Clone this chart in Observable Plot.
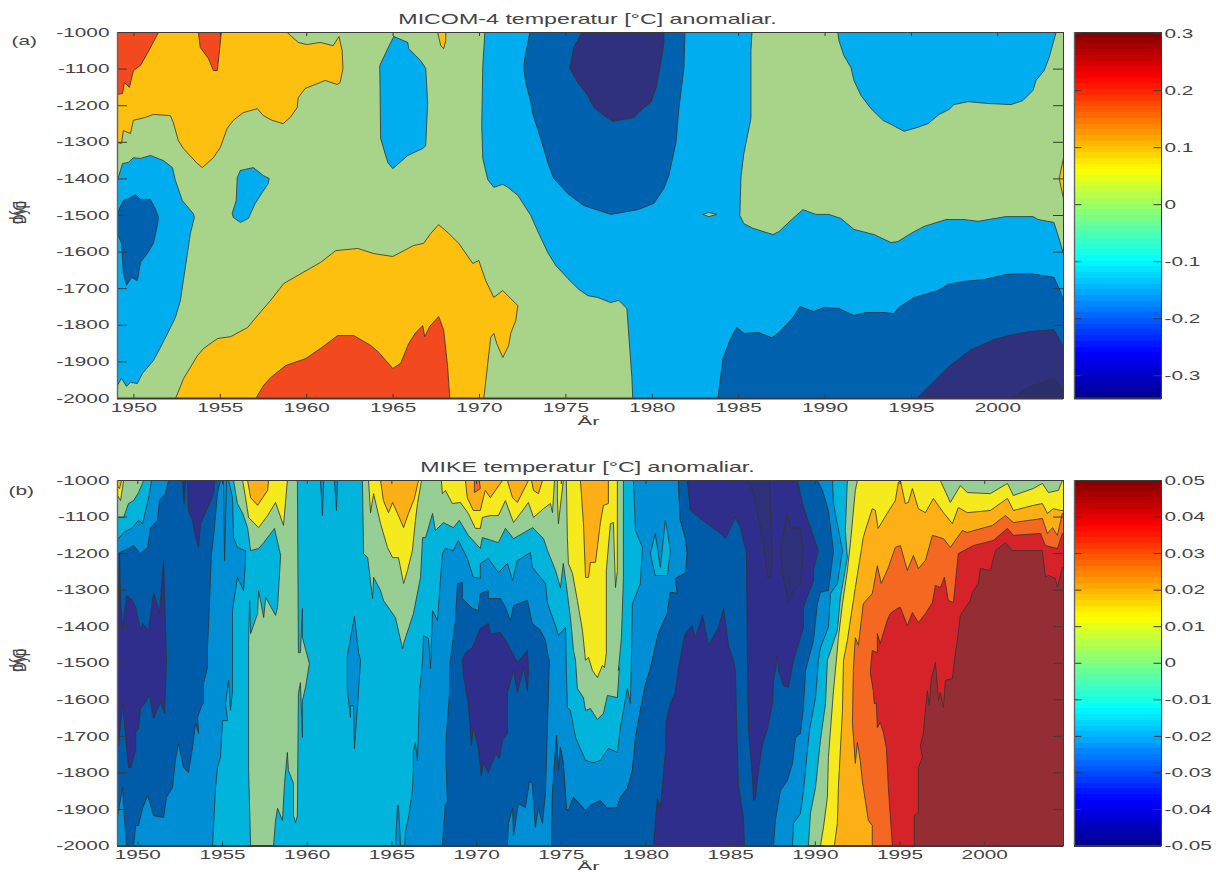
<!DOCTYPE html>
<html><head><meta charset="utf-8">
<script src="https://cdn.jsdelivr.net/npm/d3@7"></script>
<script src="https://cdn.jsdelivr.net/npm/@observablehq/plot@0.6"></script>
<style>
html,body{margin:0;padding:0;background:#fff}
#page{position:relative;width:1216px;height:872px;overflow:hidden}
#page>div{position:absolute}
svg{overflow:visible}
</style></head><body><div id="page"></div>
<script>
const yearTicks=[1950,1955,1960,1965,1970,1975,1980,1985,1990,1995,2000];
const depthTicks=[-1000,-1100,-1200,-1300,-1400,-1500,-1600,-1700,-1800,-1900,-2000];
const barTicksA=[0.3,0.2,0.1,0,-0.1,-0.2,-0.3];
const barTicksB=[0.05,0.04,0.03,0.02,0.01,0,-0.01,-0.02,-0.03,-0.04,-0.05];
const xA=[1949.05,2003.8], xB=[1948.8,2004.65];
const ZB=2004.65, ZA=2003.8;

// Panel (a) contour regions: [year, depth]
const aRedTL=[[1949.05,-1000],[1951.42,-1000],[1951.24,-1016],[1950.78,-1057],[1950.38,-1090],[1949.97,-1104],[1949.74,-1150],[1949.45,-1137],[1949.34,-1167],[1949.05,-1169]];
const aAmberTop=[[1949.05,-1000],[1958.87,-1000],[1959.51,-1027],[1960.03,-1033],[1960.78,-1027],[1961.53,-1036],[1961.87,-1011],[1962.05,-1049],[1962.10,-1098],[1961.93,-1137],[1961.76,-1142],[1961.07,-1131],[1960.49,-1142],[1959.91,-1153],[1959.51,-1178],[1959.45,-1205],[1959.05,-1232],[1958.64,-1249],[1958,-1240],[1957.49,-1227],[1957.14,-1208],[1956.33,-1219],[1955.75,-1240],[1955.40,-1262],[1955,-1314],[1954.6,-1342],[1953.96,-1369],[1953.67,-1358],[1952.86,-1317],[1952.57,-1295],[1952.28,-1246],[1952.11,-1227],[1951.13,-1224],[1950.66,-1232],[1949.97,-1240],[1949.80,-1276],[1949.39,-1268],[1949.28,-1303],[1949.05,-1301]];
const aRedSmall=[[1953.73,-1000],[1953.84,-1041],[1954.31,-1071],[1954.6,-1104],[1954.83,-1104],[1955.06,-1000]];
const aAmberSmall=[[1967.58,-1000],[1967.76,-1036],[1967.93,-1044],[1968.05,-1022],[1968.05,-1000]];
const aBlueCol=[[1965.04,-1011],[1965.85,-1027],[1965.9,-1044],[1966.6,-1077],[1966.89,-1098],[1967,-1191],[1966.89,-1309],[1966.72,-1317],[1965.85,-1336],[1964.98,-1372],[1964.69,-1355],[1964.28,-1290],[1964.23,-1090],[1964.69,-1044]];
const aBlueLeft=[[1949.05,-1404],[1949.34,-1358],[1949.68,-1355],[1949.97,-1342],[1950.38,-1344],[1950.95,-1336],[1951.71,-1350],[1952.23,-1369],[1952.4,-1404],[1952.8,-1459],[1953.44,-1495],[1953.5,-1505],[1953.27,-1549],[1953.15,-1587],[1952.86,-1678],[1952.69,-1732],[1952.4,-1779],[1951.94,-1823],[1951.53,-1861],[1951.13,-1896],[1950.49,-1932],[1950.2,-1959],[1949.8,-1956],[1949.57,-1967],[1949.28,-1945],[1949.05,-1964]];
const aDarkLeft=[[1949.05,-1492],[1949.39,-1459],[1949.68,-1454],[1950.09,-1443],[1950.38,-1456],[1950.95,-1456],[1951.24,-1481],[1951.42,-1505],[1951.36,-1527],[1951.13,-1576],[1950.78,-1604],[1950.38,-1628],[1950.2,-1678],[1949.86,-1669],[1949.57,-1691],[1949.39,-1658],[1949.28,-1576],[1949.05,-1549]];
const aBlueSmall=[[1956.16,-1377],[1956.91,-1369],[1957.49,-1391],[1957.83,-1399],[1957.77,-1413],[1957.43,-1437],[1957.02,-1467],[1956.62,-1508],[1956.16,-1519],[1955.75,-1505],[1955.69,-1494],[1955.92,-1459],[1955.98,-1396]];
const aAmberLow=[[1952.41,-2000],[1952.88,-1945],[1953.69,-1882],[1954.04,-1863],[1954.85,-1836],[1955.6,-1831],[1956.58,-1806],[1957.16,-1773],[1957.91,-1732],[1958.67,-1686],[1959.77,-1656],[1960.81,-1628],[1961.68,-1596],[1962.95,-1590],[1963.88,-1604],[1964.98,-1612],[1966.19,-1582],[1966.77,-1576],[1967.18,-1549],[1967.64,-1525],[1968.22,-1549],[1968.8,-1576],[1969.61,-1631],[1969.96,-1623],[1970.36,-1678],[1970.83,-1724],[1971.35,-1705],[1971.81,-1727],[1972.22,-1746],[1972.1,-1787],[1971.81,-1822],[1971.69,-1855],[1971.35,-1888],[1971,-1850],[1970.83,-1822],[1970.65,-1833],[1970.48,-1904],[1970.25,-2000]];
const aRedLow=[[1957.05,-2000],[1957.51,-1964],[1957.91,-1943],[1958.78,-1910],[1959.94,-1891],[1960.81,-1863],[1961.79,-1828],[1962.72,-1828],[1963.7,-1855],[1964.17,-1874],[1964.98,-1918],[1965.44,-1904],[1965.9,-1850],[1966.31,-1820],[1966.72,-1801],[1966.83,-1831],[1967.12,-1803],[1967.64,-1776],[1967.93,-1814],[1968.16,-1915],[1968.28,-2000]];
const aBlueMain=[[1970.31,-1000],[1985.77,-1000],[1985.71,-1049],[1985.71,-1235],[1985.30,-1331],[1985.13,-1396],[1985.07,-1500],[1985.30,-1522],[1985.82,-1535],[1986.98,-1552],[1987.33,-1544],[1988.14,-1508],[1988.72,-1484],[1989.47,-1497],[1990.22,-1497],[1990.92,-1508],[1991.67,-1538],[1992.83,-1552],[1993.82,-1574],[1994.22,-1571],[1994.97,-1549],[1995.72,-1530],[1997,-1511],[1998.04,-1511],[1998.85,-1516],[2000.47,-1503],[2002.04,-1503],[2002.33,-1511],[2003.25,-1519],[2003.49,-1555],[2003.78,-1601],[ZA,-1601],[ZA,-2000],[1978.87,-2000],[1978.82,-1943],[1978.53,-1754],[1978.06,-1732],[1977.6,-1738],[1976.85,-1724],[1976.27,-1719],[1975.75,-1702],[1975.11,-1672],[1974.42,-1637],[1973.95,-1601],[1973.43,-1549],[1972.97,-1500],[1972.22,-1445],[1971.64,-1423],[1971.35,-1415],[1970.83,-1423],[1970.48,-1402],[1970.19,-1344],[1970.13,-1254],[1970.19,-1090]];
const aGreenIsle=[[1982.93,-1497],[1983.27,-1492],[1983.73,-1497],[1983.27,-1503]];
const aBlueTR=[[1990.74,-1000],[1990.8,-1022],[1991.09,-1063],[1991.5,-1096],[1991.67,-1131],[1992.08,-1172],[1992.66,-1208],[1993.35,-1240],[1993.82,-1251],[1994.57,-1270],[1995.38,-1259],[1995.96,-1249],[1996.6,-1224],[1997.18,-1210],[1997.46,-1197],[1998.27,-1189],[1999.43,-1194],[2000.76,-1197],[2001.45,-1186],[2002.04,-1158],[2002.21,-1131],[2002.68,-1104],[2002.97,-1068],[2003.37,-1000]];
const aDarkBR=[[1983.8,-2000],[1984.09,-1891],[1984.55,-1834],[1984.9,-1806],[1985.3,-1822],[1986.17,-1820],[1986.92,-1834],[1987.33,-1820],[1988.14,-1779],[1988.54,-1749],[1989.35,-1762],[1989.93,-1751],[1990.8,-1754],[1991.67,-1773],[1992.37,-1765],[1993.41,-1765],[1993.99,-1768],[1994.28,-1751],[1995.15,-1724],[1996.54,-1705],[1997.12,-1688],[1998.05,-1680],[1999.21,-1675],[2000.47,-1661],[2001.8,-1658],[2003.25,-1669],[2003.54,-1699],[2003.78,-1727],[ZA,-1727],[ZA,-2000]];
const aNavyBR=[[1995.32,-2000],[1996.3,-1954],[1997.17,-1913],[1998.05,-1880],[1998.45,-1867],[1999.78,-1839],[2000.65,-1828],[2001.8,-1817],[2003.25,-1812],[2003.78,-1858],[ZA,-1858],[ZA,-2000]];
const aNavyCorner=[[2000.76,-2000],[2001.92,-1967],[2003.25,-1945],[2003.78,-1978],[ZA,-2000]];
const aAmberEdge=[[ZA,-1342],[2003.55,-1399],[ZA,-1454]];
const aDarkTop=[[1972.91,-1000],[1972.62,-1071],[1972.56,-1098],[1972.68,-1137],[1972.97,-1191],[1973.08,-1222],[1973.43,-1273],[1973.72,-1317],[1973.95,-1355],[1974.3,-1399],[1975.11,-1440],[1976.04,-1473],[1977.6,-1497],[1979.16,-1484],[1980.09,-1467],[1980.67,-1426],[1980.96,-1391],[1981.37,-1301],[1981.54,-1208],[1981.83,-1098],[1981.89,-1000]];
const aNavyTop=[[1975.92,-1000],[1975.46,-1041],[1975.23,-1098],[1975.69,-1137],[1976.27,-1172],[1976.62,-1205],[1977.2,-1227],[1977.71,-1243],[1978.93,-1232],[1979.45,-1208],[1979.92,-1191],[1980.21,-1153],[1980.5,-1082],[1980.67,-1027],[1980.67,-1000]];

// Panel (b) contour regions: [year, depth]
const bMidLeft=[[1948.8,-1000],[1955.36,-1000],[1955.59,-1047],[1955.65,-1156],[1955.88,-1183],[1956.36,-1192],[1956.36,-1219],[1956.24,-1301],[1955.88,-1265],[1955.59,-1356],[1955.59,-1575],[1955.47,-1629],[1955.36,-1547],[1955.18,-1610],[1955.3,-1657],[1955,-1657],[1954.88,-1758],[1954.7,-1785],[1954.59,-1840],[1954.41,-2000],[1948.8,-2000]];
const bCyanTL=[[1948.8,-1000],[1950.81,-1000],[1950.63,-1049],[1950.28,-1118],[1950.04,-1109],[1949.69,-1129],[1949.16,-1142],[1948.86,-1159],[1948.8,-1159]];
const bGreenTL=[[1948.8,-1000],[1950.34,-1000],[1950.04,-1033],[1949.75,-1055],[1949.45,-1063],[1949.16,-1101],[1948.8,-1101]];
const bYellowTL=[[1948.8,-1000],[1949.16,-1000],[1948.98,-1055],[1948.8,-1041]];
const bAmberTL=[[1948.8,-1000],[1949.04,-1000],[1948.92,-1022],[1948.8,-1016]];
const bDarkLeft=[[1951.81,-1000],[1954.88,-1000],[1954.7,-1036],[1954.47,-1156],[1954.35,-1200],[1954.17,-1402],[1954.11,-1457],[1954.11,-1512],[1953.88,-1555],[1953.88,-1610],[1953.76,-1616],[1953.53,-1648],[1953.59,-1692],[1953.41,-1665],[1953.23,-1731],[1952.99,-1799],[1952.7,-1785],[1952.4,-1720],[1952.23,-1761],[1952.05,-1840],[1951.69,-1867],[1951.52,-1922],[1950.93,-1917],[1950.58,-1862],[1950.28,-1897],[1950.04,-1944],[1949.87,-1944],[1949.75,-2000],[1949.34,-2000],[1949.16,-1895],[1949.1,-1840],[1948.86,-1903],[1948.8,-1922],[1948.8,-1200],[1949.16,-1192],[1949.45,-1186],[1949.75,-1178],[1950.16,-1200],[1950.58,-1183],[1950.75,-1129],[1951.16,-1109],[1951.28,-1055],[1951.63,-1036]];
const bNavyLeft=[[1948.8,-1410],[1948.92,-1200],[1948.98,-1328],[1949.1,-1402],[1949.34,-1315],[1949.69,-1328],[1949.87,-1347],[1950.16,-1410],[1950.28,-1391],[1950.63,-1410],[1950.93,-1306],[1951.28,-1361],[1951.52,-1219],[1951.69,-1492],[1951.58,-1637],[1951.34,-1607],[1950.93,-1651],[1950.69,-1588],[1950.46,-1607],[1950.16,-1624],[1950.04,-1679],[1949.87,-1689],[1949.87,-1739],[1949.57,-1785],[1949.45,-1785],[1949.1,-1610],[1948.86,-1725],[1948.8,-1720]];
const bNavyTop=[[1952.93,-1000],[1954.53,-1000],[1954.47,-1036],[1954.11,-1077],[1953.7,-1118],[1953.59,-1183],[1953.41,-1156],[1953.23,-1109],[1952.99,-1082]];
const bNavySpike=[[1952.64,-1000],[1952.73,-1063],[1952.82,-1000]];
const bSpikeA=[[1955.06,-1000],[1955.12,-1219],[1955.24,-1000]];
const bSpikeB=[[1960.78,-1000],[1960.9,-1096],[1960.97,-1000]];
const bSpikeC=[[1961.61,-1000],[1961.73,-1082],[1961.79,-1000]];
const bSpikeD=[[1962.79,-1372],[1963.03,-1471],[1963.15,-1492],[1963.03,-1575],[1962.79,-1733],[1962.73,-1616],[1962.55,-1616],[1962.55,-1648],[1962.37,-1569],[1962.37,-1479]];
const bSpikeE=[[1965.21,-2000],[1965.33,-1889],[1965.39,-1889],[1965.51,-2000]];
const bGreen1=[[1955.65,-1000],[1959.42,-1000],[1959.48,-1471],[1959.6,-1471],[1959.72,-1350],[1959.72,-1430],[1960.13,-1501],[1959.9,-1566],[1959.72,-1602],[1959.72,-1703],[1959.6,-1553],[1959.48,-1583],[1959.42,-1917],[1959.31,-1936],[1959.19,-1917],[1959.19,-1829],[1958.89,-1793],[1958.83,-1744],[1958.66,-1829],[1958.54,-1930],[1958.25,-1897],[1958.13,-1930],[1958.01,-2000],[1956.66,-2000],[1956.54,-1793],[1956.54,-1446],[1956.6,-1328],[1956.66,-1419],[1957.07,-1364],[1957.13,-1301],[1957.43,-1375],[1957.55,-1320],[1958.13,-1369],[1958.25,-1347],[1958.43,-1205],[1958.07,-1131],[1957.43,-1170],[1957.13,-1186],[1956.66,-1192],[1956.48,-1129],[1956.19,-1090],[1955.88,-1063]];
const bYellow1=[[1956.19,-1000],[1956.36,-1047],[1956.54,-1101],[1957.13,-1129],[1957.66,-1096],[1958.13,-1060],[1958.6,-1123],[1958.83,-1000]];
const bAmber1=[[1956.48,-1000],[1956.66,-1047],[1957.07,-1068],[1957.66,-1027],[1957.72,-1000]];
const bGreen2=[[1963.26,-1000],[1978.67,-1000],[1978.67,-1265],[1978.55,-1430],[1978.37,-1520],[1978.43,-1512],[1978.31,-1594],[1977.72,-1588],[1977.49,-1637],[1977.13,-1654],[1976.72,-1624],[1976.43,-1629],[1976.31,-1594],[1975.95,-1569],[1975.84,-1492],[1975.72,-1465],[1975.54,-1375],[1975.3,-1287],[1975.12,-1227],[1974.95,-1293],[1974.66,-1246],[1974.19,-1192],[1973.95,-1159],[1973.31,-1129],[1972.18,-1159],[1971.7,-1131],[1971.29,-1170],[1970.34,-1156],[1970.22,-1186],[1969.51,-1150],[1968.98,-1109],[1968.63,-1129],[1968.04,-1115],[1967.57,-1137],[1967.4,-1090],[1966.99,-1156],[1966.81,-1156],[1966.69,-1265],[1966.27,-1364],[1965.69,-1446],[1965.63,-1460],[1965.21,-1375],[1964.5,-1328],[1964.33,-1301],[1963.92,-1265],[1963.86,-1323],[1963.57,-1211],[1963.33,-1200]];
const bYellow2=[[1963.62,-1000],[1963.74,-1088],[1963.92,-1036],[1964.33,-1118],[1964.74,-1183],[1965.04,-1211],[1965.39,-1211],[1965.69,-1282],[1965.92,-1246],[1966.21,-1192],[1966.39,-1109],[1966.51,-1063],[1966.75,-1000]];
const bAmber2=[[1964.33,-1000],[1964.5,-1055],[1964.8,-1088],[1965.04,-1060],[1965.33,-1090],[1965.69,-1129],[1965.98,-1090],[1966.33,-1049],[1966.57,-1000]];
const bYellow3=[[1967.92,-1000],[1967.98,-1036],[1968.16,-1027],[1968.57,-1063],[1969.04,-1060],[1969.51,-1090],[1969.93,-1131],[1970.22,-1131],[1970.34,-1101],[1970.81,-1096],[1971.29,-1096],[1971.7,-1055],[1972.18,-1115],[1972.59,-1090],[1973.06,-1060],[1973.36,-1101],[1973.95,-1077],[1974.36,-1063],[1974.48,-1088],[1974.6,-1000]];
const bAmber3=[[1969.34,-1000],[1969.45,-1047],[1969.81,-1082],[1970.22,-1082],[1970.51,-1027],[1970.81,-1047],[1971.53,-1000]];
const bRedTiny=[[1969.87,-1000],[1969.87,-1033],[1970.22,-1022],[1970.16,-1000]];
const bAmber4=[[1971.82,-1000],[1972.12,-1047],[1972.41,-1060],[1973.06,-1000]];
const bAmber5=[[1973.24,-1000],[1973.36,-1027],[1973.65,-1036],[1973.89,-1000]];
const bYellow4=[[1974.77,-1000],[1974.77,-1047],[1974.83,-1118],[1975.12,-1000]];
const bYellow5=[[1975.3,-1000],[1975.36,-1156],[1975.42,-1227],[1975.66,-1254],[1975.95,-1328],[1976.25,-1410],[1976.43,-1492],[1976.61,-1484],[1976.84,-1520],[1977.13,-1539],[1977.43,-1506],[1977.55,-1512],[1977.66,-1473],[1977.66,-1246],[1977.9,-1118],[1978.08,-1115],[1978.2,-1293],[1978.31,-1246],[1978.31,-1000]];
const bAmber6=[[1976.13,-1000],[1976.31,-1118],[1976.43,-1265],[1976.61,-1265],[1976.72,-1224],[1977.02,-1224],[1977.31,-1115],[1977.49,-1068],[1977.78,-1063],[1977.78,-1000]];
const bDarkEdge=[[1981.91,-1000],[1982.03,-1109],[1982.32,-1156],[1982.44,-1200],[1982.32,-1254],[1981.73,-1268],[1981.85,-1309],[1981.44,-1306],[1981.26,-1364],[1980.73,-1419],[1980.26,-1514],[1979.96,-1561],[1979.67,-1629],[1979.38,-1703],[1979.2,-1793],[1978.9,-1843],[1978.49,-1867],[1978.31,-1895],[1977.72,-1897],[1977.31,-1876],[1976.72,-1889],[1976.43,-1903],[1975.72,-1867],[1975.42,-1903],[1975.3,-1897],[1975.12,-1774],[1974.95,-1731],[1974.83,-1793],[1974.72,-1698],[1974.48,-1856],[1974.42,-2000]];
const bMidCenterTop=[[1965.75,-2000],[1965.81,-1958],[1965.98,-1922],[1966.21,-1848],[1966.27,-1793],[1966.27,-1739],[1966.39,-1717],[1966.51,-1766],[1966.63,-1583],[1966.81,-1492],[1966.87,-1424],[1967.16,-1432],[1967.28,-1514],[1967.4,-1356],[1967.69,-1383],[1967.98,-1200],[1968.16,-1186],[1968.63,-1192],[1968.92,-1164],[1969.45,-1213],[1969.81,-1265],[1970.22,-1268],[1970.22,-1227],[1970.69,-1213],[1971.29,-1252],[1971.82,-1227],[1972.12,-1274],[1972.41,-1219],[1973.18,-1197],[1973.29,-1238],[1973.77,-1265],[1974.07,-1282],[1974.19,-1337],[1974.66,-1397],[1974.83,-1424],[1975.25,-1402],[1975.3,-1520],[1975.36,-1621],[1975.54,-1629],[1975.84,-1703],[1976.43,-1766],[1976.9,-1772],[1977.31,-1766],[1977.78,-1733],[1978.31,-1744],[1978.49,-1676],[1978.9,-1569],[1979.08,-1610],[1979.14,-1492],[1979.2,-1337],[1979.67,-1282],[1979.79,-1183],[1979.38,-1137],[1979.26,-1000]];
const bCyanIsle=[[1980.26,-1200],[1980.55,-1145],[1980.85,-1238],[1981.14,-1109],[1981.26,-1137],[1981.44,-1192],[1981.26,-1260],[1980.55,-1260]];
const bDarkCenter=[[1967.98,-2000],[1968.16,-1884],[1968.28,-1881],[1968.16,-1733],[1968.4,-1583],[1968.4,-1512],[1968.75,-1383],[1968.87,-1282],[1969.16,-1279],[1969.16,-1323],[1969.75,-1350],[1970.1,-1356],[1970.22,-1309],[1970.69,-1301],[1970.69,-1323],[1971.41,-1323],[1971.7,-1347],[1972,-1383],[1972.18,-1342],[1973,-1328],[1973.29,-1391],[1973.77,-1410],[1974.07,-1438],[1974.24,-1484],[1974.3,-1492],[1974.07,-1854],[1973.89,-1938],[1973.65,-1897],[1973.47,-1949],[1973.29,-1829],[1973.12,-1824],[1972.88,-1895],[1972.47,-1884],[1972.18,-1971],[1972.12,-1897],[1971.88,-1938],[1971.82,-2000]];
const bNavyCenter=[[1969.16,-1492],[1969.34,-1471],[1969.75,-1457],[1970.22,-1405],[1970.69,-1391],[1970.81,-1419],[1971.41,-1416],[1971.82,-1446],[1972.41,-1498],[1973,-1465],[1973.06,-1520],[1973,-1575],[1972.77,-1512],[1972.41,-1580],[1972.18,-1520],[1971.82,-1580],[1971.82,-1692],[1971.53,-1711],[1971.35,-1761],[1971.12,-1747],[1970.69,-1799],[1970.4,-1772],[1970.28,-1807],[1970.1,-1731],[1969.81,-1676],[1969.69,-1725],[1969.51,-1610],[1969.22,-1534]];
const bMidRight=[[1990.01,-1000],[1991.01,-1000],[1991.07,-1063],[1991.6,-1192],[1991.3,-1282],[1990.89,-1309],[1990.77,-1402],[1990.3,-1457],[1990.18,-1492],[1990.01,-1594],[1989.65,-1684],[1989.53,-1739],[1989.3,-1848],[1989.12,-1911],[1988.71,-1938],[1988.65,-2000],[1987.35,-2000]];
const bDarkRightEdge=[[1990.12,-1000],[1990.42,-1027],[1990.77,-1082],[1991.07,-1192],[1990.77,-1301],[1990.3,-1306],[1990.12,-1337],[1989.89,-1438],[1989.42,-1520],[1989.3,-1621],[1989.12,-1692],[1988.83,-1703],[1988.65,-1774],[1988.35,-1821],[1987.94,-1848],[1987.64,-1930],[1987.53,-2000]];
const bNavyBig=[[1980.44,-2000],[1980.67,-1870],[1980.85,-1895],[1981.14,-1747],[1981.2,-1657],[1981.44,-1610],[1981.73,-1580],[1981.91,-1514],[1982.32,-1419],[1982.73,-1397],[1982.91,-1430],[1983.34,-1369],[1983.69,-1451],[1984.28,-1402],[1984.58,-1350],[1984.87,-1451],[1985.16,-1492],[1985.28,-1520],[1985.34,-1648],[1985.46,-1834],[1985.75,-1922],[1985.81,-2000]];
const bNavyUpper=[[1982.44,-1000],[1988.94,-1000],[1989.24,-1063],[1989.42,-1090],[1989.71,-1129],[1990.18,-1192],[1989.89,-1246],[1989.89,-1274],[1989.3,-1347],[1989.3,-1402],[1988.71,-1492],[1988.41,-1566],[1988.12,-1561],[1987.82,-1520],[1987.76,-1479],[1987.64,-1520],[1987.53,-1547],[1987.47,-1610],[1987.17,-1679],[1986.88,-1720],[1986.64,-1793],[1986.46,-1870],[1986.35,-1876],[1986.29,-1813],[1986.05,-1676],[1985.99,-1492],[1985.93,-1192],[1985.75,-1164],[1985.58,-1129],[1985.28,-1101],[1984.69,-1159],[1984.4,-1145],[1983.93,-1129],[1983.34,-1109],[1982.81,-1088],[1982.63,-1082]];
const bNavyDark1=[[1986.05,-1000],[1986.35,-1036],[1986.76,-1129],[1987.06,-1211],[1987.17,-1265],[1987.35,-1265],[1987.47,-1219],[1987.35,-1082],[1987.29,-1000]];
const bNavyDark2=[[1988.35,-1090],[1988.53,-1129],[1989.12,-1131],[1989.3,-1200],[1989.12,-1282],[1988.71,-1301],[1988.41,-1334],[1988.12,-1265],[1987.94,-1200],[1988.12,-1145]];
const bGreenRight=[[1991.89,-1000],[ZB,-1000],[ZB,-2000],[1989.59,-2000],[1989.71,-1911],[1990.01,-1840],[1990.3,-1711],[1990.6,-1610],[1990.71,-1492],[1990.77,-1484],[1991.3,-1410],[1991.48,-1320],[1991.89,-1211],[1991.77,-1137]];
const bYellowRight=[[1990.3,-2000],[1990.48,-1949],[1990.71,-1867],[1990.77,-1758],[1991.07,-1575],[1991.24,-1492],[1991.36,-1430],[1991.6,-1337],[1991.89,-1246],[1992.07,-1172],[1992.36,-1027],[1992.48,-1000],[1997.38,-1000],[1997.97,-1060],[1998.56,-1014],[1998.97,-1033],[2000.33,-1036],[2001.34,-1008],[2001.69,-1041],[2002.87,-1022],[2003.4,-1008],[2003.76,-1033],[2004.35,-1027],[2004.58,-1000],[ZB,-1000],[ZB,-2000]];
const bAmberRight=[[1991.12,-2000],[1991.3,-1938],[1991.36,-1840],[1991.6,-1629],[1991.66,-1492],[1991.89,-1438],[1992.36,-1293],[1992.83,-1156],[1992.95,-1137],[1993.36,-1077],[1993.54,-1082],[1993.71,-1131],[1994.24,-1090],[1994.72,-1055],[1994.9,-1005],[1995.02,-1000],[1995.31,-1063],[1995.49,-1060],[1995.73,-1022],[1996.08,-1077],[1996.5,-1088],[1996.97,-1049],[1997.56,-1088],[1998.09,-1118],[1998.44,-1074],[1998.97,-1088],[2000.33,-1082],[2001.34,-1049],[2001.69,-1082],[2002.88,-1068],[2003.4,-1063],[2003.7,-1090],[2004.05,-1077],[2004.47,-1082],[ZB,-1082],[ZB,-2000]];
const bOrangeRight=[[1993.36,-2000],[1993.36,-1944],[1993.13,-1930],[1992.77,-1821],[1992.65,-1766],[1992.48,-1717],[1992.36,-1774],[1992.19,-1665],[1992.24,-1520],[1992.36,-1430],[1992.54,-1451],[1992.83,-1337],[1993.36,-1309],[1993.42,-1295],[1993.66,-1233],[1993.89,-1282],[1994.31,-1238],[1994.72,-1183],[1995.02,-1178],[1995.43,-1246],[1995.79,-1205],[1996.08,-1241],[1996.5,-1219],[1996.91,-1150],[1997.56,-1159],[1997.97,-1183],[1998.68,-1137],[1998.97,-1142],[2000.45,-1123],[2001.22,-1096],[2001.69,-1115],[2003.4,-1104],[2003.7,-1145],[2004,-1129],[2004.29,-1150],[2004.58,-1090],[ZB,-1090],[ZB,-2000]];
const bRedRight=[[1994.55,-2000],[1994.31,-1840],[1994.19,-1731],[1994.01,-1689],[1993.83,-1662],[1993.66,-1676],[1993.6,-1610],[1993.48,-1610],[1993.42,-1575],[1993.25,-1528],[1993.25,-1520],[1993.36,-1465],[1993.66,-1471],[1993.66,-1419],[1993.83,-1446],[1994.24,-1383],[1994.42,-1364],[1994.84,-1350],[1995.02,-1347],[1995.43,-1397],[1995.73,-1361],[1996.08,-1389],[1996.5,-1364],[1996.91,-1334],[1997.09,-1287],[1997.38,-1293],[1997.62,-1265],[1997.85,-1328],[1998.15,-1334],[1998.44,-1200],[1999.33,-1178],[2000.51,-1164],[2001.34,-1131],[2001.69,-1150],[2003.29,-1145],[2003.58,-1178],[2004.29,-1186],[2004.58,-1145],[ZB,-1145],[ZB,-2000]];
const bMaroonRight=[[1995.84,-2000],[1995.84,-1917],[1996.08,-1908],[1996.08,-1785],[1996.32,-1758],[1996.2,-1725],[1996.38,-1692],[1996.44,-1657],[1996.61,-1575],[1996.73,-1616],[1996.85,-1539],[1996.97,-1520],[1997.09,-1498],[1997.27,-1602],[1997.38,-1580],[1997.56,-1621],[1997.68,-1547],[1998.09,-1542],[1998.21,-1492],[1998.38,-1438],[1998.56,-1369],[1999.15,-1328],[1999.27,-1306],[1999.62,-1282],[1999.74,-1241],[2000.33,-1246],[2000.63,-1192],[2001.22,-1170],[2001.64,-1192],[2003.4,-1192],[2003.58,-1265],[2003.76,-1260],[2004.17,-1268],[2004.29,-1293],[2004.58,-1238],[ZB,-1238],[ZB,-2000]];
const bMidCenter=[...bMidCenterTop,...bDarkEdge];
const bDarkRight=[...bDarkEdge.slice().reverse(),...bDarkRightEdge];

const A={red:"#F2491F",amber:"#FEC00E",green:"#A8D489",blue:"#00AEEF",dark:"#0062AE",navy:"#2F317C",navy2:"#2C2F6C"};
const B={navy:"#2F2E8C",navy2:"#2E3079",dark:"#005BA8",mid:"#008FD5",cyan:"#00B4DB",green:"#96CE94",yellow:"#F4EA1E",amber:"#FDB016",orange:"#F56822",red:"#D62229",maroon:"#952E34"};

const layersA=[
 [aAmberTop,A.amber],[aRedTL,A.red],[aRedSmall,A.red],[aAmberSmall,A.amber],[aBlueCol,A.blue],[aBlueLeft,A.blue],[aDarkLeft,A.dark],[aBlueSmall,A.blue],[aAmberLow,A.amber],[aRedLow,A.red],[aBlueMain,A.blue],[aGreenIsle,A.green],[aBlueTR,A.blue],[aDarkBR,A.dark],[aNavyBR,A.navy],[aNavyCorner,A.navy2],[aAmberEdge,A.amber],[aDarkTop,A.dark],[aNavyTop,A.navy]];
const layersB=[
 [bMidLeft,B.mid],[bCyanTL,B.cyan],[bGreenTL,B.green],[bYellowTL,B.yellow],[bAmberTL,B.amber],[bDarkLeft,B.dark],[bNavyLeft,B.navy],[bNavyTop,B.navy],[bNavySpike,B.navy],[bSpikeA,B.mid],[bSpikeB,B.mid],[bSpikeC,B.mid],[bSpikeD,B.mid],[bSpikeE,B.mid],
 [bGreen1,B.green],[bYellow1,B.yellow],[bAmber1,B.amber],[bGreen2,B.green],[bYellow2,B.yellow],[bAmber2,B.amber],[bYellow3,B.yellow],[bAmber3,B.amber],[bRedTiny,B.orange],[bAmber4,B.amber],[bAmber5,B.amber],[bYellow4,B.yellow],[bYellow5,B.yellow],[bAmber6,B.amber],
 [bMidCenter,B.mid],[bCyanIsle,B.cyan],[bDarkCenter,B.dark],[bNavyCenter,B.navy],[bMidRight,B.mid],[bDarkRight,B.dark],[bNavyBig,B.navy],[bNavyUpper,B.navy],[bNavyDark1,B.navy2],[bNavyDark2,B.navy2],
 [bGreenRight,B.green],[bYellowRight,B.yellow],[bAmberRight,B.amber],[bOrangeRight,B.orange],[bRedRight,B.red],[bMaroonRight,B.maroon]];

const INK="#3a3a3a", FONT="Liberation Sans";
function stretch(svg){
  svg.querySelectorAll("text").forEach(t=>{
    const tr=t.getAttribute("transform")||"";
    const s=t.textContent;
    const k=s.includes("temperatur")?1.66:s==="År"?2:1.6;
    t.setAttribute("transform",tr+(tr.includes("rotate")?" scale(1,1.45)":` scale(${k},1)`));
  });
  return svg;
}
function place(svg,left,top){
  const d=document.createElement("div");
  d.style.left=left+"px";d.style.top=top+"px";
  d.appendChild(stretch(svg));
  document.getElementById("page").appendChild(d);
}
function panel({layers,base,domain,title,tag,tagDx,tagDy,height,mb,arDy}){
  const [x0,x1]=domain;
  const kx=(x1-x0)/946;
  return Plot.plot({
    width:1070,height,marginLeft:117,marginRight:7,marginTop:32,marginBottom:mb,
    style:{fontFamily:FONT,fontSize:"13px",color:"#444",background:"transparent",overflow:"visible"},
    x:{domain,label:null,axis:null},
    y:{domain:[-2000,-1000],label:null,axis:null},
    marks:[
      Plot.frame({fill:base,stroke:"none"}),
      ...layers.map(([pts,fill])=>Plot.line([...pts,pts[0]],{x:d=>d[0],y:d=>d[1],fill,stroke:"#333",strokeWidth:0.9,strokeOpacity:0.9,curve:"linear",clip:true})),
      Plot.axisX(yearTicks,{anchor:"bottom",tickSize:0,tickPadding:4,tickFormat:d=>String(d),label:null}),
      Plot.axisY(depthTicks,{anchor:"left",tickSize:0,tickPadding:8,tickFormat:d=>String(d),label:null}),
      Plot.ruleX(yearTicks,{y1:-2000,y2:-1989,stroke:INK}),
      Plot.ruleX(yearTicks,{y1:-1000,y2:-1011,stroke:INK}),
      Plot.ruleY(depthTicks,{x1:x0,x2:x0+10*kx,stroke:INK}),
      Plot.ruleY(depthTicks,{x1:x1,x2:x1-10*kx,stroke:INK}),
      Plot.frame({stroke:INK,strokeWidth:1}),
      Plot.ruleY([-2000],{stroke:INK,strokeWidth:2.2}),
      Plot.ruleX([x0],{stroke:"#666",strokeWidth:1.4}),
      Plot.text([title],{frameAnchor:"top",dx:-3,dy:-18,fontSize:14,fill:"#444"}),
      Plot.text(["År"],{frameAnchor:"bottom",dx:-2,dy:arDy,fontSize:11,fill:"#444"}),
      Plot.text([tag],{frameAnchor:"top-left",dx:tagDx,dy:tagDy,textAnchor:"start",fill:"#444"}),
      Plot.text(["Dyp"],{frameAnchor:"left",dx:-98,dy:-3,rotate:-90,textAnchor:"middle",fill:"#444"}),
      Plot.text(["Dyp"],{frameAnchor:"left",dx:-98,dy:-3,rotate:90,textAnchor:"middle",fill:"#444"})
    ]
  });
}
function colorbar({domain,ticks,height,mb,fmt}){
  const [lo,hi]=domain;
  const bands=d3.range(64).map(i=>({i,lo:lo+(hi-lo)*i/64,hi:lo+(hi-lo)*(i+1)/64,t:(i+.5)/64}));
  return Plot.plot({
    width:146,height,marginLeft:4,marginRight:55,marginTop:32,marginBottom:mb,
    style:{fontFamily:FONT,fontSize:"13px",color:"#444",background:"transparent",overflow:"visible"},
    x:{domain:[0,1],axis:null,label:null},
    y:{domain,axis:null,label:null},
    color:{type:"linear",domain:[0,.125,.375,.625,.875,1],range:["#00008f","#0000ff","#00ffff","#ffff00","#ff0000","#800000"],interpolate:"rgb"},
    marks:[
      Plot.rect(bands,{x1:0,x2:1,y1:"lo",y2:"hi",fill:"t",inset:0,shapeRendering:"crispEdges"}),
      Plot.ruleY(ticks,{x1:0,x2:.085,stroke:INK}),
      Plot.ruleY(ticks,{x1:1,x2:.915,stroke:INK}),
      Plot.frame({stroke:INK,strokeWidth:1}),
      Plot.ruleX([0],{stroke:"#666",strokeWidth:1.4}),
      Plot.ruleY([lo],{stroke:INK,strokeWidth:2}),
      Plot.axisY(ticks,{anchor:"right",tickSize:0,tickPadding:3,tickFormat:fmt,label:null})
    ]
  });
}
place(panel({layers:layersA,base:A.green,domain:xA,title:"MICOM-4 temperatur [°C] anomaliar.",tag:"(a)",tagDx:-106,tagDy:3,height:432,mb:34,arDy:26}),0,0);
place(colorbar({domain:[-0.34,0.302],ticks:barTicksA,height:432,mb:34,fmt:d=>String(d)}),1070,0);
place(panel({layers:layersB,base:B.cyan,domain:xB,title:"MIKE temperatur [°C] anomaliar.",tag:"(b)",tagDx:-109,tagDy:5,height:424,mb:26.5,arDy:24}),0,448);
place(colorbar({domain:[-0.05,0.05],ticks:barTicksB,height:424,mb:26.5,fmt:d=>String(d)}),1070,448);
</script></body></html>
